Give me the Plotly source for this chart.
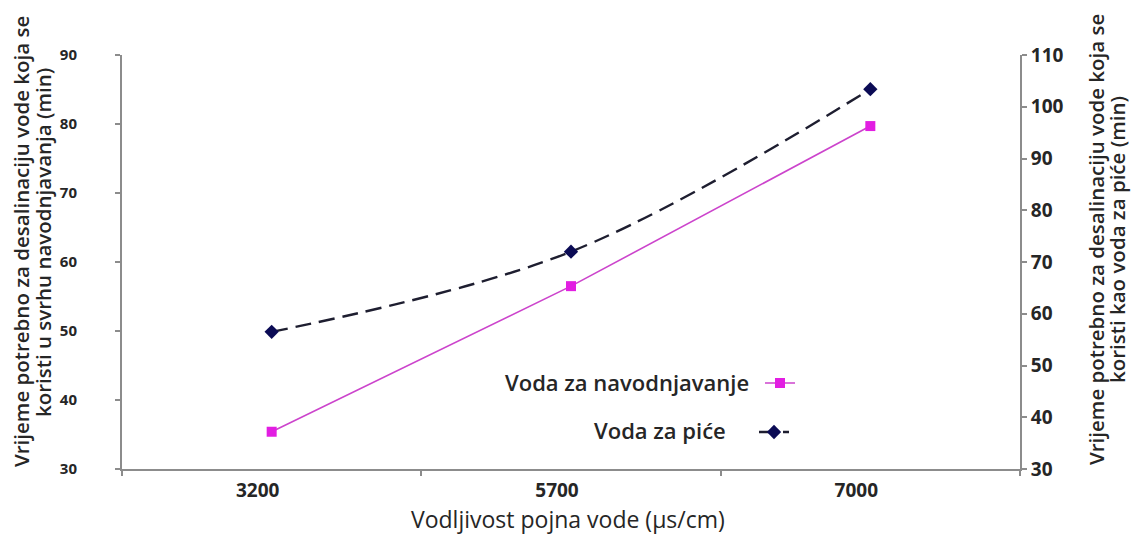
import plotly.graph_objects as go

categories = ["3200", "5700", "7000"]
irrigation = [35.4, 56.5, 79.7]   # left axis (min)
drinking = [56.5, 72.0, 103.4]    # right axis (min)

name_irr = "Voda za navodnjavanje"
name_drink = "Voda za piće"

left_ticks = [30, 40, 50, 60, 70, 80, 90]
right_ticks = [30, 40, 50, 60, 70, 80, 90, 100, 110]

x_title = "Vodljivost pojna vode (µs/cm)"
left_title = ["Vrijeme potrebno za desalinaciju vode koja se",
              "koristi u svrhu navodnjavanja (min)"]
right_title = ["Vrijeme potrebno za desalinaciju vode koja se",
               "koristi kao voda za piće (min)"]

axis_col = "#8c8c8c"
txt_col = "#262626"
FONT = "Open Sans"

fig = go.Figure()
fig.add_trace(go.Scatter(
    x=categories, y=irrigation, name="", mode="lines+markers",
    line=dict(color="#cc44cc", width=1.6),
    marker=dict(symbol="square", size=10, color="#e21ee2"),
    hovertemplate=name_irr + ": %{y}<extra></extra>",
    legend="legend",
))
fig.add_trace(go.Scatter(
    x=categories, y=drinking, name="", mode="lines+markers", yaxis="y2",
    line=dict(color="#1e1e30", width=2.4, dash="16px,8px", shape="spline", smoothing=1),
    marker=dict(symbol="diamond", size=11, color="#0b0b55"),
    hovertemplate=name_drink + ": %{y}<extra></extra>",
    legend="legend2",
))

W, H = 1134, 534
PL, PR, PT, PB = 122, 1020, 55, 469   # plot area in page pixels
L, R, T, B = PL, W - PR, PT, H - PB
pw, ph = PR - PL, PB - PT

def px(xp):
    return (xp - PL) / pw

def py(yp):
    return (PB - yp) / ph

title_font = dict(size=20.5, family=FONT, color=txt_col, weight=600)

annotations = [
    dict(text=name_irr, x=px(751), y=py(382), xanchor="right", yanchor="middle",
         font=dict(size=22, family=FONT, color=txt_col, weight=600)),
    dict(text=name_drink, x=px(728), y=py(430), xanchor="right", yanchor="middle",
         font=dict(size=22, family=FONT, color=txt_col, weight=600)),
    dict(text=x_title, x=px(568), y=py(519), xanchor="center", yanchor="middle",
         font=dict(size=23, family=FONT, color=txt_col)),
    dict(text=left_title[0], x=px(21), y=py(242), xanchor="center", yanchor="middle",
         textangle=-90, font=title_font),
    dict(text=left_title[1], x=px(43), y=py(243), xanchor="center", yanchor="middle",
         textangle=-90, font=title_font),
    dict(text=right_title[0], x=px(1096), y=py(240), xanchor="center", yanchor="middle",
         textangle=-90, font=title_font),
    dict(text=right_title[1], x=px(1117), y=py(240), xanchor="center", yanchor="middle",
         textangle=-90, font=title_font),
]
for a in annotations:
    a.update(xref="paper", yref="paper", showarrow=False)

fig.update_layout(
    width=W, height=H,
    margin=dict(l=L, r=R, t=T, b=B, autoexpand=False),
    paper_bgcolor="white", plot_bgcolor="white",
    font=dict(family=FONT, color=txt_col),
    xaxis=dict(
        type="category", range=[-0.5, 2.5],
        showline=True, linecolor=axis_col, linewidth=2,
        ticks="outside", tickson="boundaries", ticklen=5, tickcolor=axis_col, tickwidth=1.5,
        tickfont=dict(size=19, family=FONT, weight="bold", color=txt_col),
        ticklabelshift=-14, ticklabelstandoff=3,
        showgrid=False, zeroline=False,
    ),
    yaxis=dict(
        range=[30, 90], tickvals=left_ticks,
        showline=True, linecolor=axis_col, linewidth=2,
        ticks="outside", ticklen=5, tickcolor=axis_col, tickwidth=1.5,
        ticklabelstandoff=35,
        tickfont=dict(size=15, family=FONT, weight="bold", color=txt_col),
        showgrid=False, zeroline=False,
    ),
    yaxis2=dict(
        range=[30, 110], tickvals=right_ticks, overlaying="y", side="right",
        showline=True, linecolor=axis_col, linewidth=2,
        ticks="outside", ticklen=5, tickcolor=axis_col, tickwidth=1.5,
        tickfont=dict(size=19, family=FONT, weight="bold", color=txt_col),
        showgrid=False, zeroline=False,
    ),
    legend=dict(x=px(760), y=py(383), xanchor="left", yanchor="middle",
                bgcolor="rgba(0,0,0,0)", font=dict(size=2), itemwidth=30),
    legend2=dict(x=px(754), y=py(432), xanchor="left", yanchor="middle",
                 bgcolor="rgba(0,0,0,0)", font=dict(size=2), itemwidth=30),
    showlegend=True,
    annotations=annotations,
)

fig.write_html(
    "out.html",
    config={"displayModeBar": False},
    post_script="document.body.style.margin='0';document.body.style.overflow='hidden';",
)
